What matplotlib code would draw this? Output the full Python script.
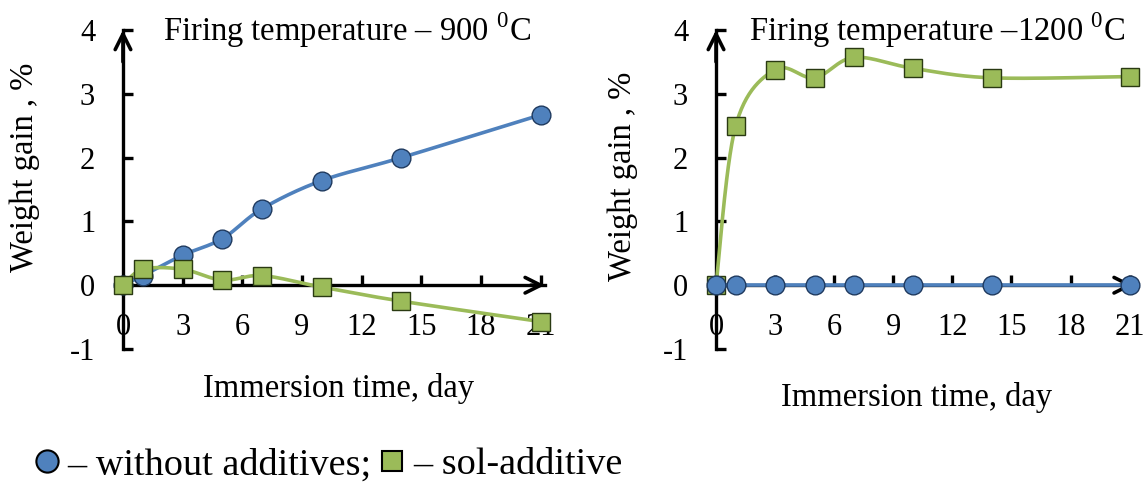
import numpy as np
import matplotlib
matplotlib.use("Agg")
import matplotlib.pyplot as plt
from matplotlib.lines import Line2D

plt.rcParams['font.family'] = ['Liberation Serif', 'DejaVu Serif']
plt.rcParams['mathtext.fontset'] = 'custom'
plt.rcParams['mathtext.rm'] = 'Liberation Serif'
plt.rcParams['axes.unicode_minus'] = False

# data
days = [0, 1, 3, 5, 7, 10, 14, 21]
plain_900 = [0, 0.15, 0.47, 0.73, 1.2, 1.64, 2.0, 2.67]
sol_900 = [0, 0.25, 0.25, 0.08, 0.15, -0.03, -0.25, -0.57]
plain_1200 = [0, 0, 0, 0, 0, 0, 0, 0]
sol_1200 = [0, 2.5, 3.38, 3.25, 3.57, 3.4, 3.25, 3.27]
x_ticks = [0, 3, 6, 9, 12, 15, 18, 21]
y_ticks = [-1, 0, 1, 2, 3, 4]
titles = ["Firing temperature \u2013 900 $^{0}$C", "Firing temperature \u20131200 $^{0}$C"]

BLUE = '#4F81BD'
GREEN = '#9BBB59'
FS = 22
FS_LAB = 23.5


# smooth line like Excel (Catmull-Rom through the points)
def smooth(xs, ys, n=30):
    p = np.column_stack([xs, ys]).astype(float)
    p = np.vstack([p[0], p, p[-1]])
    out = []
    for i in range(1, len(p) - 2):
        p0, p1, p2, p3 = p[i - 1], p[i], p[i + 1], p[i + 2]
        t = np.linspace(0, 1, n)[:, None]
        c1 = p1 + (p2 - p0) / 6
        c2 = p2 - (p3 - p1) / 6
        seg = (1 - t) ** 3 * p1 + 3 * (1 - t) ** 2 * t * c1 + 3 * (1 - t) * t ** 2 * c2 + t ** 3 * p2
        out.append(seg)
    out = np.vstack(out)
    return out[:, 0], out[:, 1]


def draw_panel(ax, blue, green, blue_on_top):
    ax.set_xlim(0, 21.2)
    ax.set_ylim(-1, 4)
    for s in ['top', 'right']:
        ax.spines[s].set_visible(False)
    ax.spines['bottom'].set_position(('data', 0))
    ax.spines['left'].set_linewidth(2.4)
    ax.spines['bottom'].set_linewidth(2.4)
    ax.set_xticks(x_ticks)
    ax.set_yticks(y_ticks)
    ax.tick_params(axis='both', direction='in', length=7, width=2.4, labelsize=FS)
    ax.tick_params(axis='x', pad=20)
    ax.tick_params(axis='y', pad=20)
    # arrow heads
    ax.annotate('', xy=(0, 4), xytext=(0, 3.5),
                arrowprops=dict(arrowstyle='->', lw=2.6, mutation_scale=28, shrinkA=0, shrinkB=0))
    ax.annotate('', xy=(21.2, 0), xytext=(20.5, 0),
                arrowprops=dict(arrowstyle='->', lw=2.6, mutation_scale=28, shrinkA=0, shrinkB=0))

    bx, by = smooth(days, blue)
    gx, gy = smooth(days, green)
    zb = 4 if blue_on_top else 3
    zg = 3 if blue_on_top else 4
    ax.plot(bx, by, color=BLUE, lw=2.6, zorder=zb, clip_on=False)
    ax.plot(days, blue, 'o', ms=13.5, mfc=BLUE, mec='#1F3A5F', mew=1, zorder=zb, clip_on=False)
    ax.plot(gx, gy, color=GREEN, lw=2.6, zorder=zg, clip_on=False)
    ax.plot(days, green, 's', ms=12.5, mfc=GREEN, mec='#2A3A12', mew=1, zorder=zg, clip_on=False)


fig = plt.figure(figsize=(11.46, 4.83), dpi=100)
ax1 = fig.add_axes([0.1073, 0.2774, 0.368, 0.6605])
ax2 = fig.add_axes([0.6248, 0.2774, 0.3644, 0.6605])

draw_panel(ax1, plain_900, sol_900, blue_on_top=False)
draw_panel(ax2, plain_1200, sol_1200, blue_on_top=True)

fig.text(0.142, 0.938, titles[0], fontsize=FS_LAB, va='center', ha='left')
fig.text(0.654, 0.938, titles[1], fontsize=FS_LAB, va='center', ha='left')

fig.text(0.022, 0.654, "Weight gain , %", rotation=90, fontsize=FS_LAB, ha='center', va='center')
fig.text(0.5436, 0.634, "Weight gain , %", rotation=90, fontsize=FS_LAB, ha='center', va='center')
fig.text(0.295, 0.195, "Immersion time, day", fontsize=FS_LAB, ha='center', va='center')
fig.text(0.800, 0.176, "Immersion time, day", fontsize=FS_LAB, ha='center', va='center')

handles = [Line2D([], [], marker='o', ls='none', ms=16, mfc=BLUE, mec='black', mew=1.5),
           Line2D([], [], marker='s', ls='none', ms=14, mfc=GREEN, mec='black', mew=1.5)]
fig.legend(handles, ["\u2013 without additives;", "\u2013 sol-additive"], loc='center left',
           bbox_to_anchor=(0.029, 0.037), ncol=2, frameon=False, fontsize=27.5,
           handlelength=0.7, handletextpad=0.2, columnspacing=0.18, borderpad=0,
           borderaxespad=0)

fig.savefig("out.png", dpi=100)
